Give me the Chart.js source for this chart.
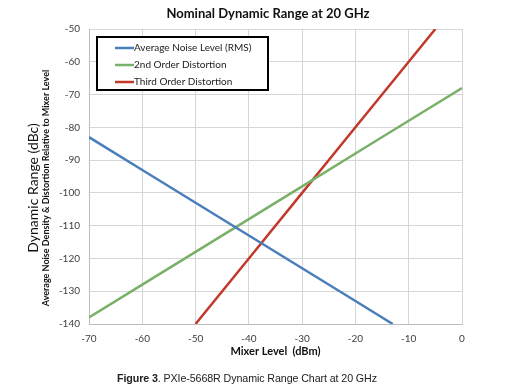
<!DOCTYPE html>
<html>
<head>
<meta charset="utf-8">
<script src="https://cdn.jsdelivr.net/npm/chart.js@4"></script>
<style>
  html, body { margin: 0; padding: 0; background: #fff; }
  #wrap { position: relative; width: 507px; height: 386px; }
  #caption {
    position: absolute; left: 117px; top: 372px;
    font-family: "Liberation Sans", Arial, sans-serif; font-size: 10.7px; color: #222;
    letter-spacing: -0.1px; white-space: nowrap;
  }
</style>
</head>
<body>
<div id="wrap">
  <canvas id="chart" width="507" height="386"></canvas>
  <div id="caption"><b>Figure 3</b>. PXIe-5668R Dynamic Range Chart at 20 GHz</div>
</div>
<script>
// values (mixer level dBm -> dBc)
const noiseLevels = [-70, -60, -50, -40, -30, -20, -13];
const noiseValues = [-83, -93, -103, -113, -123, -133, -140];
const secondLevels = [-70, -60, -50, -40, -30, -20, -10, 0];
const secondValues = [-138, -128, -118, -108, -98, -88, -78, -68];
const thirdLevels = [-50, -40, -30, -20, -10, -5];
const thirdValues = [-140, -120, -100, -80, -60, -50];
const seriesNames = ["Average Noise Level (RMS)", "2nd Order Distortion", "Third Order Distortion"];
const seriesColors = ["#4a7ebb", "#79b168", "#c0392b"];
const chartTitle = "Nominal Dynamic Range at 20 GHz";

const toPoints = (xs, ys) => xs.map((x, i) => ({ x: x, y: ys[i] }));

// legend box drawn inside plot, like the original
const boxLegend = {
  id: "boxLegend",
  afterDraw(chart) {
    const ctx = chart.ctx;
    const x0 = 97, y0 = 37, w = 171, h = 53;
    ctx.save();
    ctx.fillStyle = "#fff";
    ctx.fillRect(x0, y0, w, h);
    ctx.strokeStyle = "#000";
    ctx.lineWidth = 2;
    ctx.strokeRect(x0, y0, w, h);
    ctx.font = "10px Lato";
    ctx.textBaseline = "middle";
    chart.data.datasets.forEach((ds, i) => {
      const y = 48 + i * 17;
      ctx.strokeStyle = ds.borderColor;
      ctx.lineWidth = 2.5;
      ctx.beginPath();
      ctx.moveTo(115, y);
      ctx.lineTo(134, y);
      ctx.stroke();
      ctx.fillStyle = "#222";
      ctx.fillText(ds.label, 134, y);
    });
    ctx.restore();
  }
};

// chart title + two-line y axis title (big + small)
const titles = {
  id: "titles",
  afterDraw(chart) {
    const ctx = chart.ctx;
    ctx.save();
    ctx.fillStyle = "#111";
    ctx.textAlign = "center";
    ctx.textBaseline = "middle";
    ctx.font = "bold 13px Lato";
    ctx.fillText(chartTitle, 268, 14);
    ctx.restore();

    const cy = 188;
    ctx.save();
    ctx.fillStyle = "#111";
    ctx.textAlign = "center";
    ctx.textBaseline = "middle";
    ctx.translate(33, cy);
    ctx.rotate(-Math.PI / 2);
    ctx.font = "14px Lato";
    ctx.fillText("Dynamic Range (dBc)", 0, 0);
    ctx.restore();
    ctx.save();
    ctx.fillStyle = "#111";
    ctx.textAlign = "center";
    ctx.textBaseline = "middle";
    ctx.translate(46, cy);
    ctx.rotate(-Math.PI / 2);
    ctx.font = "bold 9px Lato";
    ctx.fillText("Average Noise Density & Distortion Relative to Mixer Level", 0, 0);
    ctx.restore();
  }
};

new Chart(document.getElementById("chart"), {
  type: "scatter",
  data: {
    datasets: [
      { label: seriesNames[0], data: toPoints(noiseLevels, noiseValues), borderColor: seriesColors[0] },
      { label: seriesNames[1], data: toPoints(secondLevels, secondValues), borderColor: seriesColors[1] },
      { label: seriesNames[2], data: toPoints(thirdLevels, thirdValues), borderColor: seriesColors[2] }
    ].map(d => Object.assign(d, { showLine: true, borderWidth: 2.5, pointRadius: 0, tension: 0 }))
  },
  options: {
    responsive: false,
    animation: false,
    layout: { padding: { left: 30, right: 45, top: 29, bottom: 0 } },
    plugins: {
      legend: { display: false },
      tooltip: { enabled: false },
      title: { display: false }
    },
    scales: {
      x: {
        type: "linear",
        min: -70, max: 0,
        afterFit: s => { s.height = 62; },
        ticks: { stepSize: 10, padding: 9, color: "#404040", font: { family: "Lato", size: 10 } },
        grid: { color: "#d6d6d6", drawTicks: false },
        border: { color: "#bdbdbd" },
        title: {
          display: true,
          text: "Mixer Level  (dBm)",
          color: "#111",
          font: { family: "Lato", size: 11, weight: "bold" },
          padding: { top: 0, bottom: 28 }
        }
      },
      y: {
        min: -140, max: -50,
        afterFit: s => { s.width = 59; },
        ticks: { stepSize: 10, padding: 9, color: "#404040", font: { family: "Lato", size: 10 } },
        grid: { color: "#d6d6d6", drawTicks: false },
        border: { color: "#bdbdbd" }
      }
    }
  },
  plugins: [boxLegend, titles]
});
</script>
</body>
</html>
